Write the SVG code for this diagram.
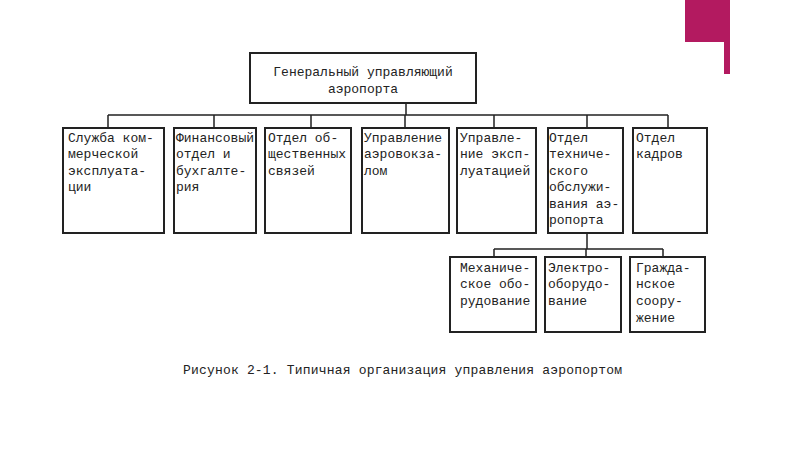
<svg xmlns="http://www.w3.org/2000/svg" width="800" height="449" viewBox="0 0 800 449">
<style>
.b{fill:#fff;stroke:#222;stroke-width:2}
.c{fill:none;stroke:#222;stroke-width:1.5}
text{font-family:"Liberation Mono","DejaVu Sans Mono",monospace;font-size:13px;fill:#222}
</style>
<rect width="800" height="449" fill="#fff"/>
<rect x="685" y="0" width="41" height="42" fill="#b31a60"/>
<rect x="724" y="0" width="6" height="74" fill="#b31a60"/>
<g id="connectors">
<path class="c" d="M406 103V115M108 115H668M108 115V128M214 115V128M311 115V128M405 115V128M494 115V128M587 115V128M668 115V128"/>
<path class="c" d="M587 233V249M494 249H663M494 249V257M586 249V257M663 249V257"/>
</g>
<g id="n0"><rect class="b" x="250" y="53" width="226" height="50"/><text x="363" y="76" text-anchor="middle">Генеральный управляющий</text><text x="363" y="93" text-anchor="middle">аэропорта</text></g>
<g id="n1"><rect class="b" x="63" y="128" width="101" height="105"/><text x="68" y="142">Служба ком-</text><text x="68" y="158">мерческой</text><text x="68" y="175">эксплуата-</text><text x="68" y="191">ции</text></g>
<g id="n2"><rect class="b" x="174" y="128" width="82" height="105"/><text x="176" y="142">Финансовый</text><text x="176" y="158">отдел и</text><text x="176" y="175">бухгалте-</text><text x="176" y="191">рия</text></g>
<g id="n3"><rect class="b" x="265" y="128" width="86" height="105"/><text x="268" y="142">Отдел об-</text><text x="268" y="158">щественных</text><text x="268" y="175">связей</text></g>
<g id="n4"><rect class="b" x="362" y="128" width="87" height="105"/><text x="364" y="142">Управление</text><text x="364" y="158">аэровокза-</text><text x="364" y="175">лом</text></g>
<g id="n5"><rect class="b" x="457" y="128" width="79" height="105"/><text x="460" y="142">Управле-</text><text x="460" y="158">ние эксп-</text><text x="460" y="175">луатацией</text></g>
<g id="n6"><rect class="b" x="548" y="128" width="75" height="105"/><text x="549" y="142">Отдел</text><text x="549" y="158">техниче-</text><text x="549" y="175">ского</text><text x="549" y="191">обслужи-</text><text x="549" y="208">вания аэ-</text><text x="549" y="224">ропорта</text></g>
<g id="n7"><rect class="b" x="633" y="128" width="74" height="105"/><text x="636" y="142">Отдел</text><text x="636" y="158">кадров</text></g>
<g id="n8"><rect class="b" x="450" y="257" width="86" height="75"/><text x="460" y="272">Механиче-</text><text x="460" y="288">ское обо-</text><text x="460" y="305">рудование</text></g>
<g id="n9"><rect class="b" x="545" y="257" width="76" height="75"/><text x="548" y="272">Электро-</text><text x="548" y="288">оборудо-</text><text x="548" y="305">вание</text></g>
<g id="n10"><rect class="b" x="630" y="257" width="75" height="75"/><text x="636" y="272">Гражда-</text><text x="636" y="288">нское</text><text x="636" y="305">соору-</text><text x="636" y="322">жение</text></g>
<text x="183" y="374" textLength="439">Рисунок 2-1. Типичная организация управления аэропортом</text>
</svg>
